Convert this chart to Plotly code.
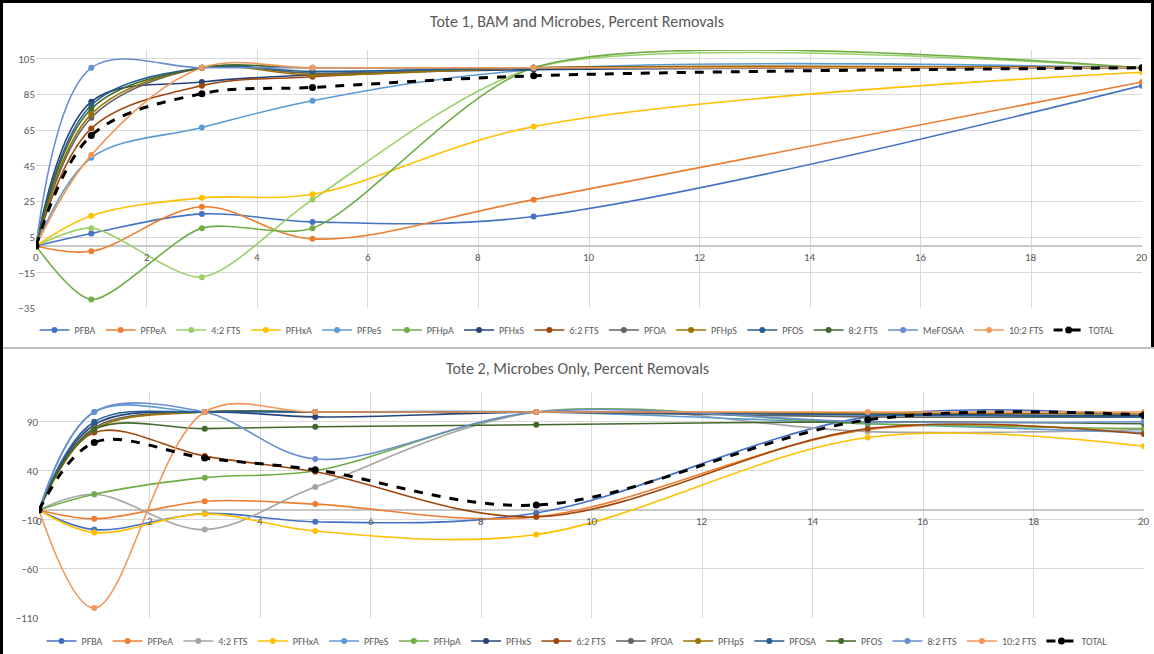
import plotly.graph_objects as go

# ---------------- data ----------------
series_names_top = ["PFBA", "PFPeA", "4:2 FTS", "PFHxA", "PFPeS", "PFHpA", "PFHxS", "6:2 FTS",
                    "PFOA", "PFHpS", "PFOS", "8:2 FTS", "MeFOSAA", "10:2 FTS", "TOTAL"]
x_top = [0, 1, 3, 5, 9, 20]
top_PFBA = [0, 7, 18, 13.5, 16.5, 90]
top_PFPeA = [0, -3, 22, 4, 26, 92]
top_42FTS = [0, 10, -17.5, 26, 100, 100]
top_PFHxA = [0, 17, 27, 29, 67, 97.5]
top_PFPeS = [0, 49.5, 66.5, 81.5, 99, 100]
top_PFHpA = [0, -30, 10, 10, 100, 100]
top_PFHxS = [0, 81, 92, 96, 99, 100]
top_62FTS = [0, 66, 90, 95, 100, 100]
top_PFOA = [0, 72, 100, 97, 100, 100]
top_PFHpS = [0, 74, 100, 96, 100, 100]
top_PFOS = [0, 79, 100, 98, 100, 100]
top_82FTS = [0, 77, 100, 100, 100, 100]
top_MeFOSAA = [0, 100, 100, 100, 100, 100]
top_102FTS = [0, 51, 100, 100, 100, 100]
top_TOTAL = [0, 62, 85.5, 89, 95.5, 100]

series_names_bot = ["PFBA", "PFPeA", "4:2 FTS", "PFHxA", "PFPeS", "PFHpA", "PFHxS", "6:2 FTS",
                    "PFOA", "PFHpS", "PFOSA", "PFOS", "8:2 FTS", "10:2 FTS", "TOTAL"]
x_bot = [0, 1, 3, 5, 9, 15, 20]
bot_PFBA = [0, -20, -3.5, -12, -3, 95, 96]
bot_PFPeA = [0, -9, 9, 6, -7, 82, 78]
bot_42FTS = [0, 16, -20, 23.5, 100, 80, 82]
bot_PFHxA = [0, -23, -4, -21.5, -25, 74, 65]
bot_PFPeS = [0, 100, 100, 100, 100, 88, 79]
bot_PFHpA = [0, 16, 33, 40, 100, 88, 83]
bot_PFHxS = [0, 87, 100, 95, 100, 98, 96]
bot_62FTS = [0, 79, 55, 39, -7, 83, 77.5]
bot_PFOA = [0, 84, 100, 100, 100, 95, 95]
bot_PFHpS = [0, 82, 100, 100, 100, 99, 98]
bot_PFOSA = [0, 90, 100, 100, 100, 97, 95]
bot_PFOS = [0, 82, 83, 85, 87, 90, 88]
bot_82FTS = [0, 100, 100, 52, 100, 90, 90]
bot_102FTS = [0, -100, 100, 100, 100, 100, 100]
bot_TOTAL = [0, 69, 53, 41, 5, 92, 97]

top_values = [top_PFBA, top_PFPeA, top_42FTS, top_PFHxA, top_PFPeS, top_PFHpA, top_PFHxS, top_62FTS,
              top_PFOA, top_PFHpS, top_PFOS, top_82FTS, top_MeFOSAA, top_102FTS, top_TOTAL]
bot_values = [bot_PFBA, bot_PFPeA, bot_42FTS, bot_PFHxA, bot_PFPeS, bot_PFHpA, bot_PFHxS, bot_62FTS,
              bot_PFOA, bot_PFHpS, bot_PFOSA, bot_PFOS, bot_82FTS, bot_102FTS, bot_TOTAL]

top_colors = ["#4472C4", "#ED7D31", "#9BCF6A", "#FFC000", "#5B9BD5", "#70AD47", "#264478", "#9E480E",
              "#636363", "#997300", "#255E91", "#43682B", "#698ED0", "#F1975A", "#000000"]
bot_colors = ["#4472C4", "#ED7D31", "#A5A5A5", "#FFC000", "#5B9BD5", "#70AD47", "#264478", "#9E480E",
              "#636363", "#997300", "#255E91", "#43682B", "#698ED0", "#F1975A", "#000000"]

x_tick_vals = [0, 2, 4, 6, 8, 10, 12, 14, 16, 18, 20]
y_ticks_top = [-35, -15, 5, 25, 45, 65, 85, 105]
y_ticks_bot = [-110, -60, -10, 40, 90]

title_top = "Tote 1, BAM and Microbes, Percent Removals"
title_bot = "Tote 2, Microbes Only, Percent Removals"

# ---------------- figure ----------------
W, H = 1154, 654
FONT = "Calibri, Carlito, 'Liberation Sans Narrow', 'Arial Narrow', Lato, sans-serif"
GRAY = "#595959"
GRID = "#d9d9d9"

def py(p):  # pixel row -> paper y
    return 1 - p / H

fig = go.Figure()

for name, vals, col in zip(series_names_top, top_values, top_colors):
    total = name == "TOTAL"
    smooth = 0.75 if name in ("4:2 FTS", "PFHpA") else 1
    fig.add_trace(go.Scatter(
        x=x_top, y=vals, name=name, mode="lines+markers",
        line=dict(color=col, width=3 if total else 1.6, shape="spline", smoothing=smooth,
                  dash="dash" if total else "solid"),
        marker=dict(color=col, size=7 if total else 6),
        xaxis="x", yaxis="y", legend="legend"))

for name, vals, col in zip(series_names_bot, bot_values, bot_colors):
    total = name == "TOTAL"
    fig.add_trace(go.Scatter(
        x=x_bot, y=vals, name=name, mode="lines+markers",
        line=dict(color=col, width=3 if total else 1.6, shape="spline", smoothing=1,
                  dash="dash" if total else "solid"),
        marker=dict(color=col, size=7 if total else 6),
        xaxis="x2", yaxis="y2", legend="legend2"))

xdom_top = [36 / W, 1142 / W]
xdom_bot = [39 / W, 1144 / W]

common_x = dict(range=[0, 20], tickvals=x_tick_vals, showticklabels=False, showgrid=True,
                gridcolor=GRID, gridwidth=1, zeroline=False, showline=False, ticks="")
fig.update_layout(
    width=W, height=H, margin=dict(l=0, r=0, t=0, b=0, autoexpand=False),
    paper_bgcolor="white", plot_bgcolor="white",
    font=dict(family=FONT, color=GRAY, size=11),
    xaxis=dict(domain=xdom_top, anchor="y", **common_x),
    yaxis=dict(domain=[py(308.3), py(50)], range=[-35, 110], tickvals=y_ticks_top,
               showgrid=True, gridcolor=GRID, zeroline=True, zerolinecolor="#c8c8c8",
               zerolinewidth=2, tickfont=dict(size=11, color=GRAY), anchor="x", ticks=""),
    xaxis2=dict(domain=xdom_bot, anchor="y2", **common_x),
    yaxis2=dict(domain=[py(617.8), py(392.4)], range=[-110, 120], tickvals=y_ticks_bot,
                showgrid=True, gridcolor=GRID, zeroline=True, zerolinecolor="#c8c8c8",
                zerolinewidth=2, tickfont=dict(size=11, color=GRAY), anchor="x2", ticks=""),
    legend=dict(orientation="h", x=0.5, xanchor="center", y=py(330), yanchor="middle",
                font=dict(size=10, color=GRAY, family=FONT), itemwidth=30,
                bgcolor="rgba(0,0,0,0)", tracegroupgap=0),
    legend2=dict(orientation="h", x=0.5, xanchor="center", y=py(641), yanchor="middle",
                 font=dict(size=10, color=GRAY, family=FONT), itemwidth=30,
                 bgcolor="rgba(0,0,0,0)", tracegroupgap=0),
    showlegend=True,
)

annotations = [
    dict(text=title_top, x=0.5, y=py(22), xref="paper", yref="paper", showarrow=False,
         font=dict(size=16, color=GRAY, family=FONT), xanchor="center", yanchor="middle"),
    dict(text=title_bot, x=0.5, y=py(368), xref="paper", yref="paper", showarrow=False,
         font=dict(size=16, color=GRAY, family=FONT), xanchor="center", yanchor="middle"),
]
for xv in x_tick_vals:
    annotations.append(dict(text=str(xv), x=xv, y=0, xref="x", yref="y", showarrow=False,
                            xanchor="center", yanchor="top", yshift=-3,
                            font=dict(size=11, color=GRAY, family=FONT)))
    annotations.append(dict(text=str(xv), x=xv, y=0, xref="x2", yref="y2", showarrow=False,
                            xanchor="center", yanchor="top", yshift=-3,
                            font=dict(size=11, color=GRAY, family=FONT)))
fig.update_layout(annotations=annotations)

shapes = [
    dict(type="line", xref="paper", yref="paper", x0=0, x1=1, y0=py(348), y1=py(348),
         line=dict(color="#bfbfbf", width=2)),
    dict(type="rect", xref="paper", yref="paper", x0=0, x1=3 / W, y0=0, y1=1,
         line=dict(width=0), fillcolor="black", layer="above"),
    dict(type="rect", xref="paper", yref="paper", x0=0, x1=1, y0=py(3), y1=1,
         line=dict(width=0), fillcolor="black", layer="above"),
    dict(type="rect", xref="paper", yref="paper", x0=1 - 3 / W, x1=1, y0=py(347), y1=1,
         line=dict(width=0), fillcolor="black", layer="above"),
]
fig.update_layout(shapes=shapes)

fig.write_html("out.html", config={"displayModeBar": False},
               post_script="document.body.style.margin='0';document.body.style.overflow='hidden';")
